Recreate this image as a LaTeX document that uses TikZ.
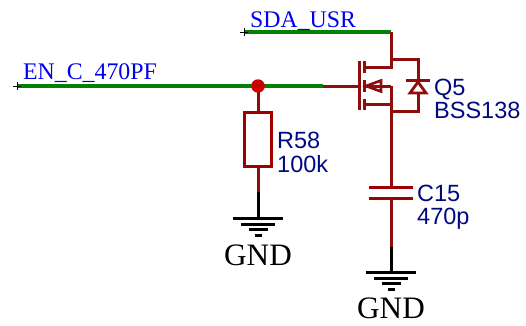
\documentclass[tikz,border=0pt]{standalone}
\usepackage{fontspec}
\setmainfont{Liberation Serif}
\newfontfamily\lsans{Liberation Sans}
\definecolor{wirered}{HTML}{8F0D0D}
\definecolor{compred}{HTML}{A00000}
\definecolor{netgreen}{HTML}{048004}
\definecolor{junct}{HTML}{CC0000}
\definecolor{netblue}{HTML}{0000F0}
\definecolor{partblue}{HTML}{000A80}
\tikzset{
  redw/.style={draw=wirered,line width=3pt},
  compw/.style={draw=compred,line width=3pt},
  greenw/.style={draw=netgreen,line width=3.2pt},
  blackw/.style={draw=black,line width=3pt},
  netlabel/.style={anchor=base west,inner sep=0pt,text=netblue,font=\fontsize{23.8}{24}\selectfont},
  partlabel/.style={anchor=base west,inner sep=0pt,text=partblue,font=\lsans\fontsize{23.5}{24}\selectfont},
  gndlabel/.style={anchor=base,inner sep=0pt,text=black,font=\fontsize{31.2}{32}\selectfont},
  crossm/.style={draw=black,line width=0.9pt},
  pt/.style={inner sep=0pt,minimum size=0pt},
}
\begin{document}
\begin{tikzpicture}[x=1pt,y=-1pt]
\useasboundingbox (0,0) rectangle (526,325);
% named points
\coordinate (enL) at (17,86);
\coordinate (j) at (258,86);
\coordinate (gateEnd) at (323,86);
\coordinate (gateBar) at (359,86);
\coordinate (sdaL) at (244,32);
\coordinate (d) at (391,32);
\coordinate (dIn) at (391,67);
\coordinate (dTap) at (391,59);
\coordinate (dCorner) at (418,59);
\coordinate (sCorner) at (418,111);
\coordinate (sTap) at (391,111);
\coordinate (sIn) at (391,104);
\coordinate (bodyIn) at (391,86);
\coordinate (capT) at (391,187);
\coordinate (capB) at (391,198);
\coordinate (capEnd) at (391,247);
\coordinate (g2) at (391,272);
\coordinate (rEnd) at (258,192);
\coordinate (g1) at (258,218);
% nets
\draw[greenw] (enL) -- (gateEnd);
\draw[greenw] (sdaL) -- (d);
\draw[crossm] (13,86) -- (21,86) (17,82) -- (17,90);
\draw[crossm] (240,32) -- (248,32) (244,28) -- (244,36);
% resistor
\node[pt,draw=compred,line width=3pt,fill=none,minimum width=27.5pt,minimum height=54pt] (R) at (258,139) {};
\draw[redw] (j) -- (R.north);
\draw[redw] (R.south) -- (rEnd);
\draw[blackw] (rEnd) -- (g1);
\node[pt,fill=junct,circle,minimum size=13.5pt] (jn) at (j) {};
% gate and MOSFET
\draw[redw] (gateEnd) -- (gateBar);
\draw[redw] (359,61) -- (359,110);
\draw[redw] (364.5,61) -- (364.5,73);
\draw[redw] (364.5,80) -- (364.5,92);
\draw[redw] (364.5,99) -- (364.5,110);
\draw[redw] (d) -- (dIn) -- (364.5,67);
\draw[redw] (bodyIn) -- (sTap);
\draw[redw] (364.5,104) -- (sIn);
\draw[redw] (364.5,86) -- (bodyIn);
\draw[draw=wirered,line width=2.6pt,line join=miter,fill=white] (366,86) -- (381,80.5) -- (381,91.5) -- cycle;
\draw[redw] (366,86) -- (bodyIn);
% diode
\draw[redw,line join=miter] (dTap) -- (dCorner) -- (418,80);
\draw[redw,line join=miter] (418,93) -- (sCorner) -- (sTap);
\draw[redw] (406,80.5) -- (429.5,80.5);
\draw[draw=wirered,line width=2.8pt,line join=miter,fill=white] (418,82) -- (426,93) -- (410,93) -- cycle;
% capacitor
\draw[redw] (sTap) -- (capT);
\draw[compw] (369,187) -- (413,187);
\draw[compw] (369,198) -- (413,198);
\draw[redw] (capB) -- (capEnd);
\draw[blackw] (capEnd) -- (g2);
% grounds
\foreach \gx/\gy in {258/218,391/272}{
  \draw[blackw] (\gx-25,\gy) -- (\gx+25,\gy);
  \draw[blackw] (\gx-17,\gy+6) -- (\gx+17,\gy+6);
  \draw[blackw] (\gx-9.5,\gy+11.5) -- (\gx+9.5,\gy+11.5);
  \draw[blackw] (\gx-3.5,\gy+17) -- (\gx+3.5,\gy+17);
}
% labels
\node[netlabel] (l1) at (23,79) {EN\_C\_470PF};
\node[netlabel] (l2) at (250,27) {SDA\_USR};
\node[partlabel] (q1) at (434,95) {Q5};
\node[partlabel] (q2) at (434,118) {BSS138};
\node[partlabel] (r1) at (277,148) {R58};
\node[partlabel] (r2) at (277,172) {100k};
\node[partlabel] (c1) at (417,201) {C15};
\node[partlabel] (c2) at (417,224) {470p};
\node[gndlabel] (g1t) at (258,265) {GND};
\node[gndlabel] (g2t) at (391,318) {GND};
\end{tikzpicture}
\end{document}
